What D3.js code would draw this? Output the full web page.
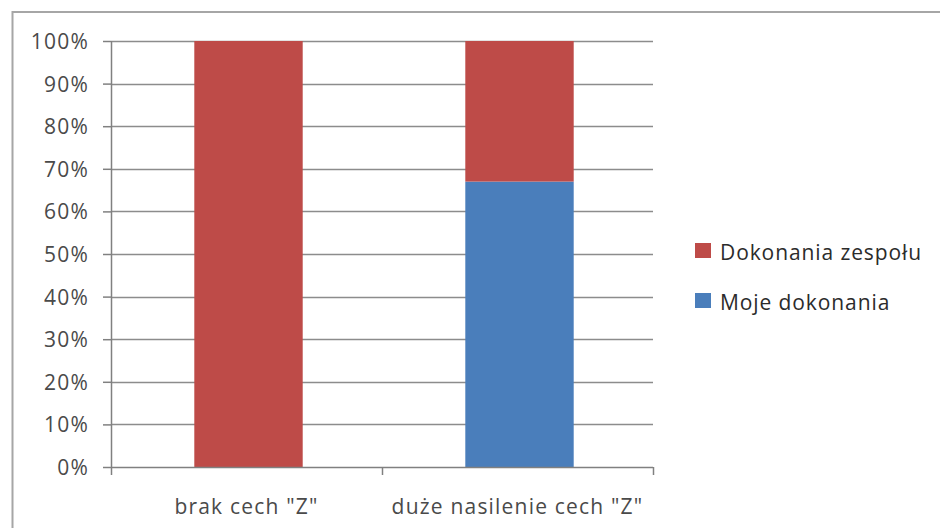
<!DOCTYPE html>
<html>
<head>
<meta charset="utf-8">
<script src="https://cdn.jsdelivr.net/npm/d3@7"></script>
<style>
  body { margin: 0; background: #fff; }
  svg { display: block; }
</style>
</head>
<body>
<svg id="chart" width="940" height="528"></svg>
<script>
// data
const categories = ["brak cech \"Z\"", "duże nasilenie cech \"Z\""];
const seriesNames = ["Moje dokonania", "Dokonania zespołu"];
const mojeDokonania = [0, 67];
const dokonaniaZespolu = [100, 33];
const yTicks = [0, 0.1, 0.2, 0.3, 0.4, 0.5, 0.6, 0.7, 0.8, 0.9, 1];

const colors = { "Moje dokonania": "#4A7EBB", "Dokonania zespołu": "#BE4B48" };

function drawChart(svgSelector) {
    const svg = d3.select(svgSelector);
    svg.selectAll("*").remove();

    const font = "'Open Sans', sans-serif";
    const margin = { top: 41, left: 111, right: 287, bottom: 61 };
    const width = +svg.attr("width");
    const height = +svg.attr("height");
    const chartWidth = width - margin.left - margin.right;
    const chartHeight = height - margin.top - margin.bottom;

    // outer chart frame (right/bottom edges fall outside the picture)
    svg.append("rect")
        .attr("x", 12.5).attr("y", 12)
        .attr("width", 940).attr("height", 540)
        .attr("fill", "#fff")
        .attr("stroke", "#a6a6a6")
        .attr("stroke-width", 2);

    // stack: percent of total per category
    const table = categories.map((c, i) => {
        const total = mojeDokonania[i] + dokonaniaZespolu[i];
        return {
            cat: c,
            "Moje dokonania": mojeDokonania[i] / total,
            "Dokonania zespołu": dokonaniaZespolu[i] / total
        };
    });
    const stacked = d3.stack().keys(seriesNames)(table);

    const x = d3.scaleBand()
        .domain(categories)
        .range([0, chartWidth])
        .paddingInner(0.6)
        .paddingOuter(0.3);

    const y = d3.scaleLinear()
        .domain([0, 1])
        .range([chartHeight, 0]);

    const chart = svg.append("g")
        .attr("transform", `translate(${margin.left},${margin.top})`);

    // gridlines
    chart.append("g")
        .selectAll("line")
        .data(yTicks.filter(d => d > 0))
        .enter()
        .append("line")
        .attr("x1", 0).attr("x2", chartWidth)
        .attr("y1", d => Math.round(y(d)) + 0.5)
        .attr("y2", d => Math.round(y(d)) + 0.5)
        .attr("stroke", "#8c8c8c")
        .attr("stroke-width", 1.5);

    // bars
    chart.selectAll("g.series")
        .data(stacked)
        .enter()
        .append("g")
        .attr("class", "series")
        .attr("fill", d => colors[d.key])
        .selectAll("rect")
        .data(d => d.filter(p => p[1] - p[0] > 0))
        .enter()
        .append("rect")
        .attr("x", d => x(d.data.cat) + 2)
        .attr("y", d => y(d[1]))
        .attr("width", x.bandwidth())
        .attr("height", d => y(d[0]) - y(d[1]));

    // Y axis
    const yAxis = chart.append("g")
        .call(d3.axisLeft(y).tickValues(yTicks).tickFormat(d3.format(".0%")).tickSize(8).tickPadding(14));
    yAxis.select(".domain").attr("stroke", "#808080").attr("stroke-width", 1.5).attr("d", `M0.5,0V${chartHeight}`);
    yAxis.selectAll(".tick line").attr("stroke", "#808080").attr("stroke-width", 1.5);
    yAxis.selectAll(".tick text")
        .style("font-family", font)
        .style("font-size", "21px")
        .style("letter-spacing", "1.2px")
        .attr("dy", "0.36em")
        .attr("fill", "#4a4a4a");

    // X axis
    const xAxis = chart.append("g")
        .attr("transform", `translate(0,${chartHeight})`)
        .call(d3.axisBottom(x).tickSize(0));
    xAxis.select(".domain").attr("stroke", "#808080").attr("stroke-width", 1.5).attr("d", `M0,0.5H${chartWidth}`);
    xAxis.selectAll(".tick text")
        .style("font-family", font)
        .style("font-size", "21px")
        .style("letter-spacing", "1.2px")
        .attr("y", 47)
        .attr("dy", 0)
        .attr("fill", "#4a4a4a");
    // category separator ticks
    xAxis.selectAll("line.sep")
        .data([0, 1, 2])
        .enter()
        .append("line")
        .attr("class", "sep")
        .attr("x1", i => i * chartWidth / 2 + 0.5)
        .attr("x2", i => i * chartWidth / 2 + 0.5)
        .attr("y1", 0).attr("y2", 8)
        .attr("stroke", "#808080")
        .attr("stroke-width", 1.5);

    // legend
    const legend = svg.append("g")
        .attr("transform", "translate(695,243)");
    const legendItems = [seriesNames[1], seriesNames[0]];
    legendItems.forEach((name, i) => {
        const row = legend.append("g").attr("transform", `translate(0,${i * 50})`);
        row.append("rect")
            .attr("width", 16).attr("height", 15)
            .attr("fill", colors[name]);
        row.append("text")
            .attr("x", 25).attr("y", 17)
            .style("font-family", font)
            .style("font-size", "21px")
            .style("letter-spacing", "0.9px")
            .attr("fill", "#2b2b2b")
            .text(name);
    });
}

drawChart("#chart");
</script>
</body>
</html>
